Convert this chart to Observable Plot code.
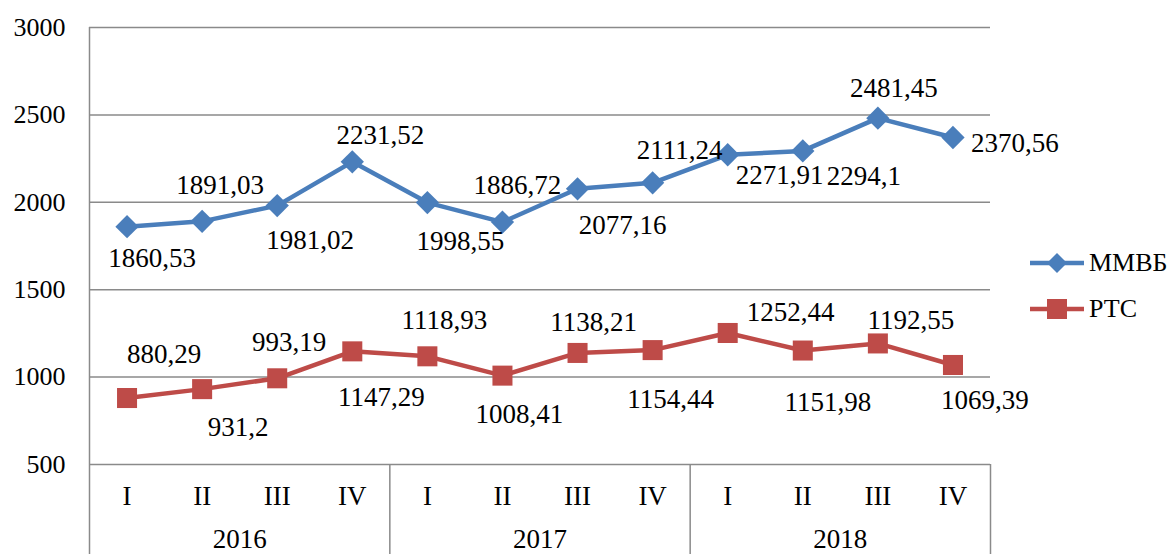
<!DOCTYPE html>
<html>
<head>
<meta charset="utf-8">
<script src="https://cdn.jsdelivr.net/npm/d3@7"></script>
<script src="https://cdn.jsdelivr.net/npm/@observablehq/plot@0.6"></script>
<style>
  html, body { margin: 0; padding: 0; background: #fff; }
  #wrap { position: relative; width: 1171px; height: 554px; overflow: hidden; font-family: "Liberation Serif", "Tinos", "DejaVu Serif", serif; }
  #wrap svg text { font-family: "Liberation Serif", "Tinos", "DejaVu Serif", serif; }
  #legend { position: absolute; left: 1028px; top: 240px; }
  .item { display: flex; align-items: center; height: 46px; font-size: 26px; color: #000; }
  .item svg { margin-right: 3px; }
</style>
</head>
<body>
<div id="wrap"><div id="legend"></div></div>
<script>
// ---- data ----
const quarters = ["I", "II", "III", "IV"];
const years = ["2016", "2017", "2018"];
const seriesNames = ["ММВБ", "РТС"];
const mmvb = [1860.53, 1891.03, 1981.02, 2231.52, 1998.55, 1886.72, 2077.16, 2111.24, 2271.91, 2294.1, 2481.45, 2370.56];
const rts = [880.29, 931.2, 993.19, 1147.29, 1118.93, 1008.41, 1138.21, 1154.44, 1252.44, 1151.98, 1192.55, 1069.39];
const yTicks = [500, 1000, 1500, 2000, 2500, 3000];

// ---- annotation placement (pixel offsets of value labels from their point) ----
const mmvbLabelOffset = [[25,32],[18,-36],[33,35],[28,-26],[33,39],[15,-37],[45,37],[27,-32],[52,21],[61,25],[16,-30],[62,6]];
const rtsLabelOffset = [[37,-44],[36,38],[12,-36],[29,46],[17,-36],[17,39],[16,-31],[18,49],[63,-21],[25,52],[33,-23],[32,35]];

const colors = ["#4a7ebb", "#be4b48"];
const font = "'Liberation Serif', 'Tinos', 'DejaVu Serif', serif";
const fmt = v => String(v).replace(".", ",");

const ticks = years.flatMap((yr, k) => quarters.map((q, j) => ({i: k * quarters.length + j, q})));
const rowsM = mmvb.map((v, i) => ({i, v}));
const rowsR = rts.map((v, i) => ({i, v}));
const yearCenters = years.map((y, k) => ({y, c: k * quarters.length + (quarters.length - 1) / 2}));
const separators = years.map((y, k) => (k + 1) * quarters.length - 0.5);
const leftEdge = -0.5;

const labelMarks = (rows, offs) => rows.map((d, k) => Plot.text([d], {
  x: "i", y: "v", text: r => fmt(r.v), dx: offs[k][0], dy: offs[k][1],
  fontSize: 27, fill: "#000"
}));

const chart = Plot.plot({
  width: 1171,
  height: 554,
  marginLeft: 89,
  marginRight: 181,
  marginTop: 27,
  marginBottom: 90,
  style: {fontFamily: font, background: "transparent", overflow: "visible"},
  x: {type: "linear", domain: [-0.5, ticks.length - 0.5], axis: null},
  y: {domain: [yTicks[0], yTicks[yTicks.length - 1]], axis: null},
  marks: [
    Plot.ruleY(yTicks, {stroke: "#8a8a8a", strokeWidth: 1.5}),
    Plot.ruleX([leftEdge], {stroke: "#8a8a8a", strokeWidth: 1.5, insetBottom: -90}),
    Plot.ruleX(separators, {x: d => d, y1: () => yTicks[0], y2: () => yTicks[0], stroke: "#8a8a8a", strokeWidth: 1.5, insetBottom: -90}),
    Plot.text(yTicks, {y: d => d, text: d => String(d), frameAnchor: "left", textAnchor: "end", lineAnchor: "middle", dx: -24, fontSize: 26, fill: "#000"}),
    Plot.text(ticks, {x: "i", text: "q", frameAnchor: "bottom", lineAnchor: "middle", dy: 32, fontSize: 27, fill: "#000"}),
    Plot.text(yearCenters, {x: "c", text: "y", frameAnchor: "bottom", lineAnchor: "middle", dy: 75, fontSize: 27, fill: "#000"}),
    Plot.line(rowsM, {x: "i", y: "v", stroke: colors[0], strokeWidth: 4.5}),
    Plot.dot(rowsM, {x: "i", y: "v", symbol: "diamond2", r: 10.5, fill: colors[0], stroke: "none"}),
    Plot.line(rowsR, {x: "i", y: "v", stroke: colors[1], strokeWidth: 4.5}),
    Plot.dot(rowsR, {x: "i", y: "v", symbol: "square", r: 11.3, fill: colors[1], stroke: "none"}),
    ...labelMarks(rowsM, mmvbLabelOffset),
    ...labelMarks(rowsR, rtsLabelOffset)
  ]
});
document.getElementById("wrap").prepend(chart);

// legend
const legend = document.getElementById("legend");
seriesNames.forEach((name, k) => {
  const item = document.createElement("div");
  item.className = "item";
  const marker = k === 0
    ? `<path d="M29,1 L39,11 L29,21 L19,11 Z" fill="${colors[k]}"/>`
    : `<rect x="19" y="1" width="20" height="20" fill="${colors[k]}"/>`;
  item.innerHTML = `<svg width="58" height="22"><line x1="2" y1="11" x2="56" y2="11" stroke="${colors[k]}" stroke-width="4.5"/>${marker}</svg><span>${name}</span>`;
  legend.appendChild(item);
});
</script>
</body>
</html>
